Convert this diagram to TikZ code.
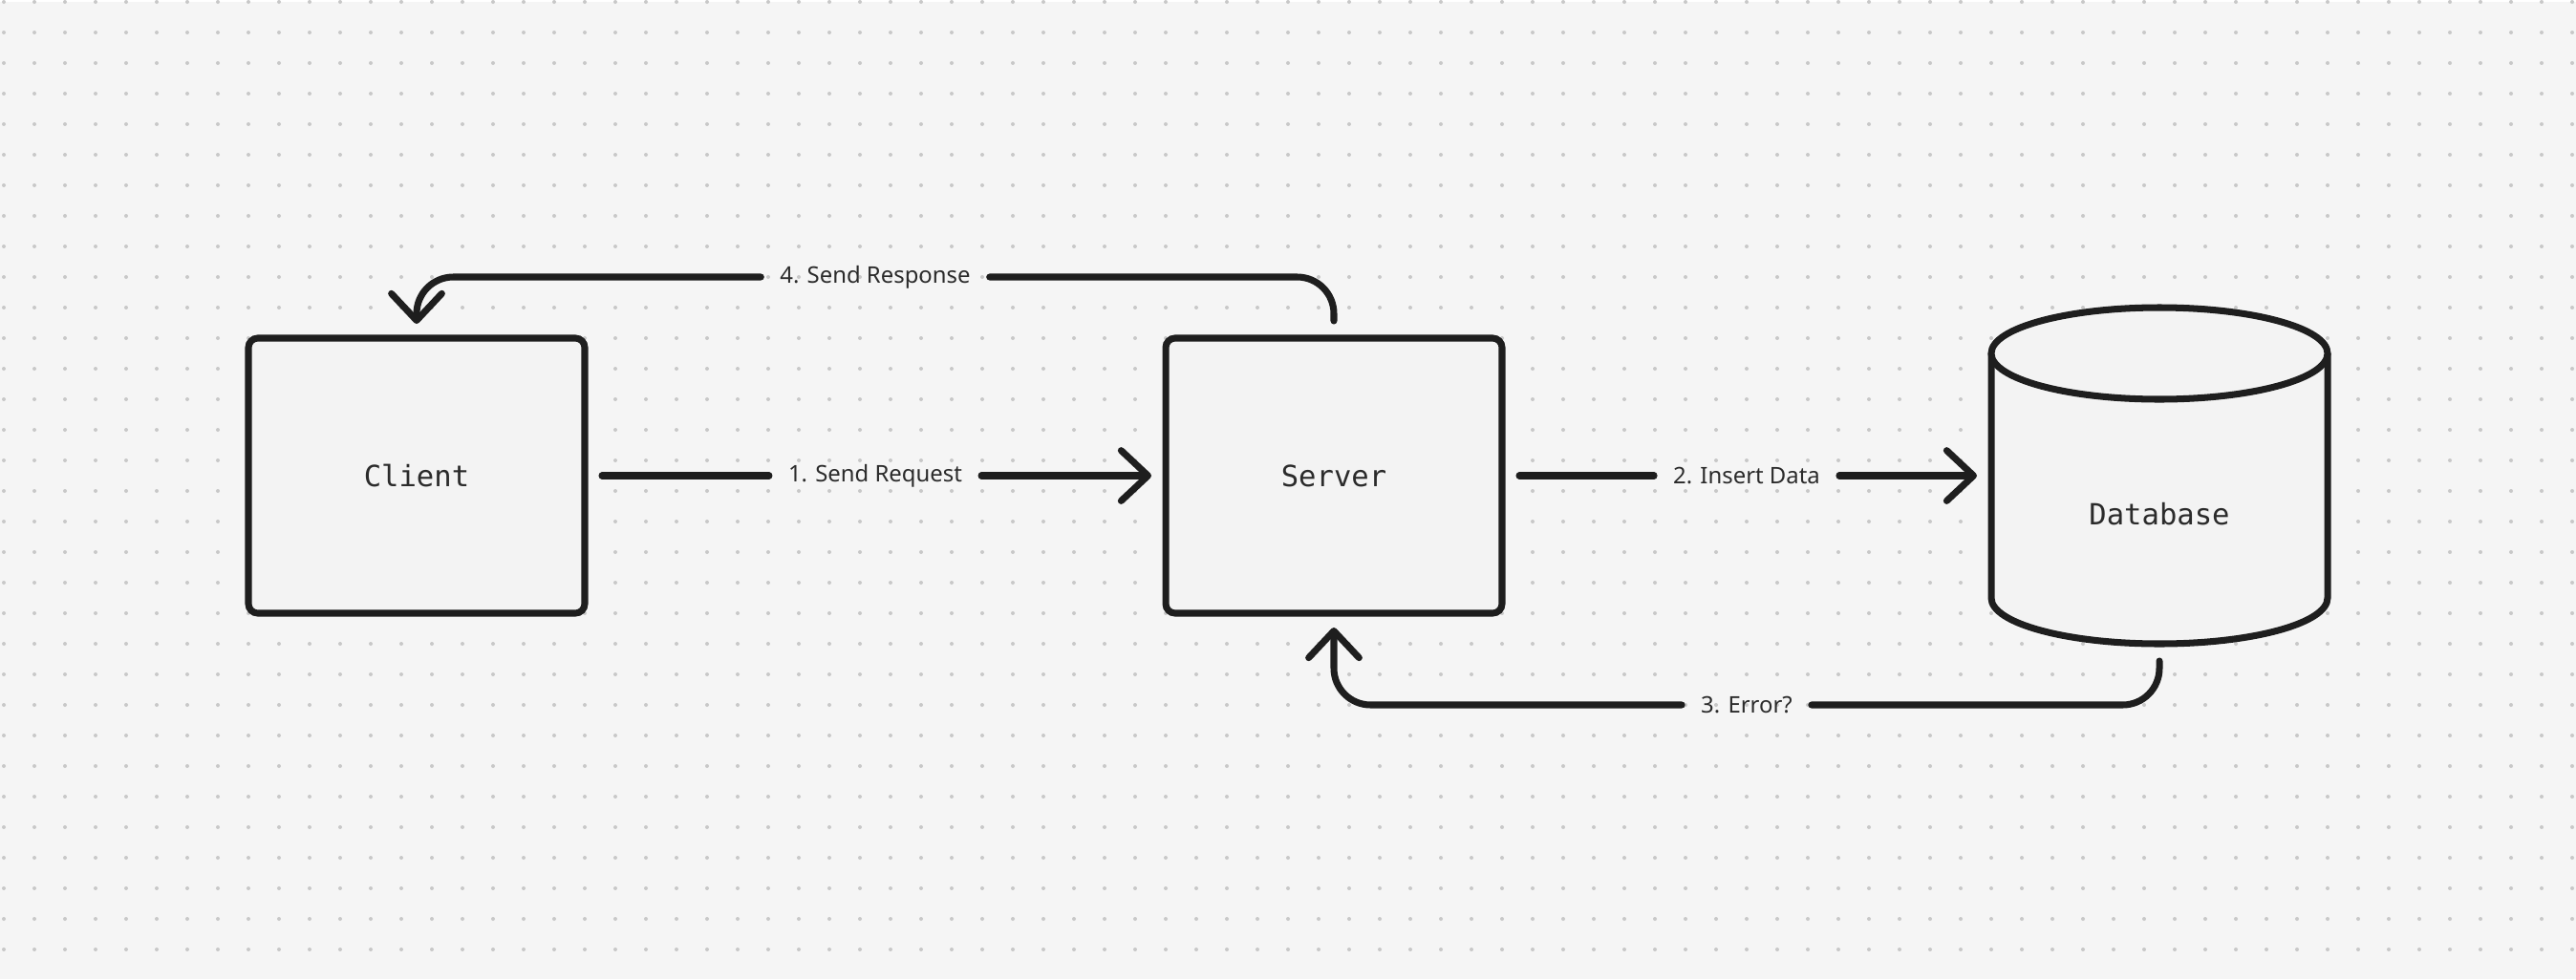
\documentclass[tikz,border=0pt]{standalone}
\usepackage{fontspec}
\usetikzlibrary{arrows.meta}
\newfontfamily\boxfont{DejaVu Sans Mono}
\newfontfamily\labelfont{Noto Sans}
\definecolor{bgcol}{HTML}{F5F5F5}
\definecolor{dotcol}{HTML}{C8C8C8}
\definecolor{ink}{HTML}{1E1E1E}
\definecolor{boxfill}{HTML}{F3F3F3}
\definecolor{labeltext}{HTML}{2B2B2B}
\tikzset{
    box/.style={draw=ink, fill=boxfill, line width=2pt, rounded corners=2.8pt,
        minimum width=3.52cm, minimum height=2.88cm, inner sep=0pt, outer sep=0pt,
        text=labeltext, font=\boxfont\fontsize{8.7pt}{10pt}\selectfont},
    wire/.style={draw=ink, line width=2pt, line cap=round, rounded corners=0.384cm},
    flow/.style={wire, shorten >=0.15cm, -{Straight Barb[length=8pt,width=15pt,round]}},
    lbl/.style={inner xsep=5.5pt, inner ysep=0pt, text=labeltext,
        font=\labelfont\fontsize{6.8pt}{8pt}\selectfont}
}
\begin{document}
\begin{tikzpicture}[x=0.32cm,y=-0.32cm]
                    \fill[bgcol] (-0.125,0) rectangle (84.125,31.97);
                    \foreach \i in {0,...,84} \foreach \j in {0,...,31} \fill[dotcol] (\i,\j) circle[radius=0.0625];
                    \node[box] (client) at (13.5,15.5) {Client};
                    \node[box] (server) at (43.5,15.5) {Server};
                    % database cylinder
                    \node[minimum width=3.52cm, minimum height=3.52cm, inner sep=0pt, outer sep=0pt] (db) at (70.5,15.5) {};
                    \fill[boxfill] (65,11.5) rectangle (76,19.5);
                    \fill[boxfill] (70.5,19.5) ellipse[x radius=5.5, y radius=1.5];
                    \draw[ink, line width=2pt] (65,11.5) -- (65,19.5) arc[start angle=180, end angle=0, x radius=5.5, y radius=1.5] -- (76,11.5);
                    \draw[ink, line width=2pt, fill=boxfill] (70.5,11.5) ellipse[x radius=5.5, y radius=1.5];
                    \node[text=labeltext, font=\boxfont\fontsize{8.7pt}{10pt}\selectfont] (dbname) at (70.5,16.75) {Database};
                    % labels first, lines stop at them
                    \path (client.east) -- node[lbl] (l1) {1. Send Request} (server.west);
                    \path (server.east) -- node[lbl] (l2) {2. Insert Data} (db.west);
                    \path (db.south) -- ++(0,2) -| node[lbl, pos=0.25] (l3) {3. Error?} (server.south);
                    \path (server.north) -- ++(0,-2) -| node[lbl, pos=0.25] (l4) {4. Send Response} (client.north);
                    \draw[wire, shorten <=0.18cm] (client.east) -- (l1);
                    \draw[flow] (l1) -- (server.west);
                    \draw[wire, shorten <=0.18cm] (server.east) -- (l2);
                    \draw[flow] (l2) -- (db.west);
                    \draw[wire, shorten <=0.18cm] (db.south) -- ++(0,2) -- (l3);
                    \draw[flow] (l3) -| (server.south);
                    \draw[wire, shorten <=0.18cm] (server.north) -- ++(0,-2) -- (l4);
                    \draw[flow] (l4) -| (client.north);
                \end{tikzpicture}
\end{document}
